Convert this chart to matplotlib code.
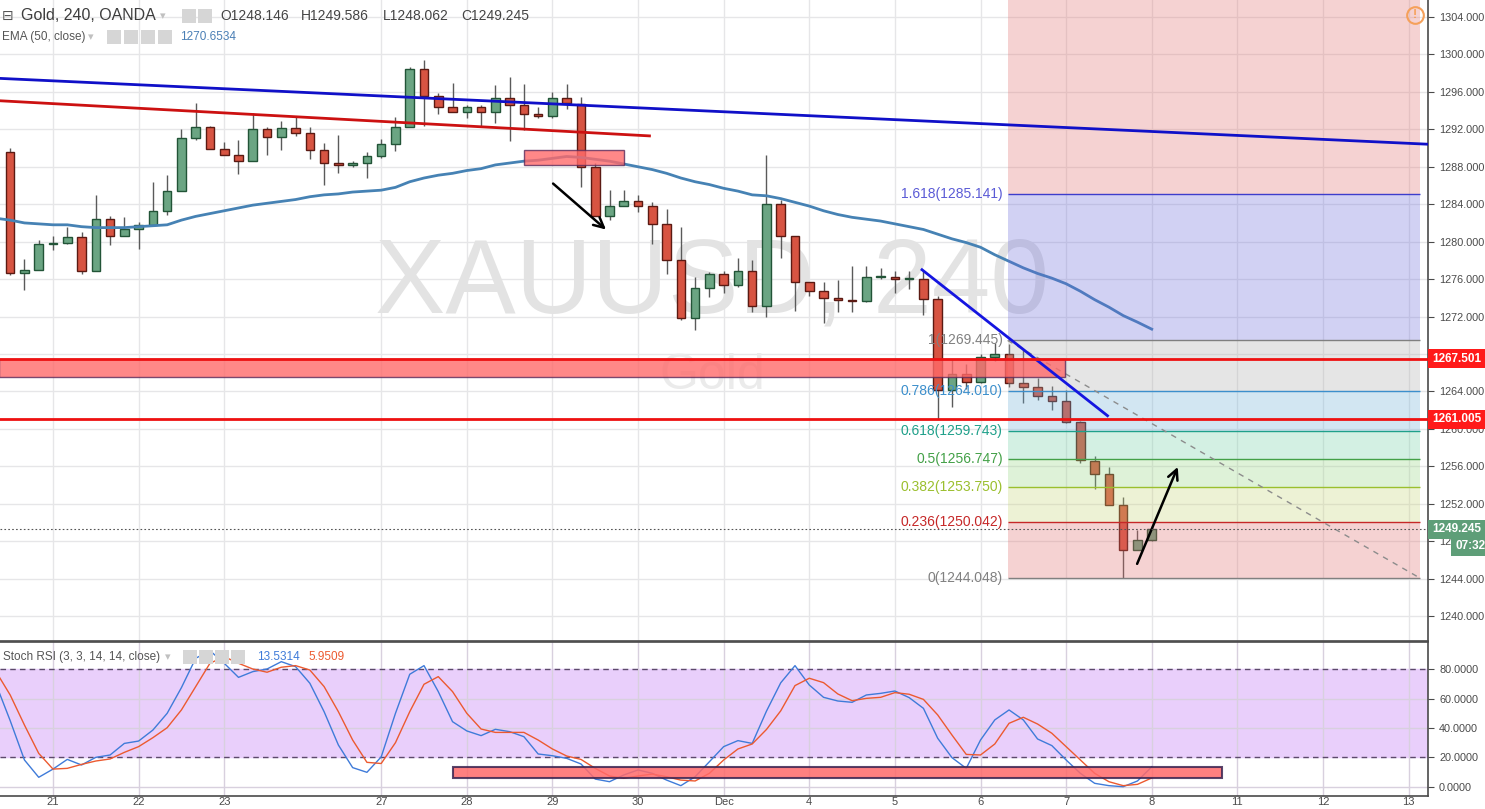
import numpy as np
import matplotlib.pyplot as plt
import matplotlib.colors as mcolors
from matplotlib.patches import Rectangle
from matplotlib.transforms import blended_transform_factory

plt.rcParams['font.family'] = ['Liberation Sans', 'DejaVu Sans']

# 4h bars, index 0 = first bar of Nov 21
bars = np.arange(-3, 78)
opens = [1289.6, 1276.6, 1277.0, 1279.7, 1279.9, 1280.5, 1276.9, 1282.4, 1280.6, 1281.4,
         1281.8, 1283.3, 1285.4, 1291.1, 1292.2, 1289.9, 1289.3, 1288.6, 1292.0, 1291.2,
         1292.1, 1291.6, 1289.8, 1288.4, 1288.2, 1288.4, 1289.2, 1290.4, 1292.2, 1298.5,
         1295.6, 1294.4, 1293.8, 1294.4, 1293.8, 1295.4, 1294.6, 1293.6, 1293.4, 1295.3,
         1294.7, 1288.0, 1282.7, 1283.8, 1284.3, 1283.8, 1281.9, 1278.0, 1271.8, 1275.1,
         1276.5, 1275.4, 1276.9, 1273.1, 1284.0, 1280.6, 1275.7, 1274.7, 1274.0, 1273.8,
         1273.7, 1276.2, 1276.2, 1276.0, 1276.0, 1273.9, 1264.1, 1265.9, 1265.0, 1267.7,
         1268.0, 1264.9, 1264.5, 1263.5, 1263.0, 1260.7, 1256.6, 1255.2, 1251.9, 1247.1,
         1248.146]
highs = [1290.0, 1278.1, 1280.2, 1280.6, 1281.6, 1281.0, 1285.0, 1282.7, 1282.6, 1282.1,
         1286.4, 1287.1, 1292.0, 1294.8, 1292.4, 1290.6, 1290.9, 1293.7, 1292.3, 1292.9,
         1293.3, 1292.2, 1290.5, 1291.4, 1288.6, 1289.6, 1291.0, 1293.3, 1298.7, 1299.4,
         1295.9, 1296.9, 1294.6, 1294.6, 1296.7, 1297.6, 1296.8, 1294.4, 1296.0, 1296.8,
         1295.5, 1288.4, 1285.5, 1285.5, 1285.0, 1284.2, 1283.5, 1281.6, 1276.2, 1276.8,
         1276.9, 1278.3, 1278.0, 1289.3, 1284.5, 1280.6, 1275.7, 1275.7, 1275.9, 1277.4,
         1277.4, 1277.2, 1276.9, 1276.9, 1276.9, 1274.2, 1267.5, 1266.9, 1268.0, 1269.2,
         1269.1, 1268.4, 1265.4, 1264.6, 1264.2, 1260.8, 1257.1, 1255.96, 1252.7, 1249.2,
         1249.586]
lows = [1276.4, 1274.8, 1277.0, 1279.1, 1279.8, 1276.5, 1276.9, 1279.6, 1280.6, 1279.2,
        1281.8, 1282.8, 1285.4, 1290.9, 1289.9, 1289.3, 1287.2, 1288.6, 1289.3, 1289.8,
        1291.3, 1288.8, 1286.0, 1287.3, 1288.0, 1286.8, 1288.9, 1289.7, 1292.2, 1292.4,
        1293.6, 1293.8, 1293.2, 1292.4, 1292.7, 1290.8, 1291.9, 1293.2, 1293.2, 1294.2,
        1285.8, 1282.7, 1282.3, 1283.8, 1283.2, 1279.8, 1276.5, 1271.6, 1270.6, 1274.1,
        1274.5, 1275.2, 1272.5, 1272.0, 1278.2, 1272.6, 1274.2, 1271.3, 1272.5, 1272.5,
        1273.6, 1276.0, 1274.5, 1274.9, 1272.2, 1261.0, 1262.3, 1264.3, 1264.9, 1267.3,
        1264.5, 1262.8, 1263.1, 1262.0, 1260.6, 1256.3, 1253.6, 1251.9, 1244.05, 1247.1,
        1248.062]
closes = [1276.6, 1277.0, 1279.7, 1279.9, 1280.5, 1276.9, 1282.4, 1280.6, 1281.4, 1281.8,
          1283.3, 1285.4, 1291.1, 1292.2, 1289.9, 1289.3, 1288.6, 1292.0, 1291.2, 1292.1,
          1291.6, 1289.8, 1288.4, 1288.2, 1288.4, 1289.2, 1290.4, 1292.2, 1298.5, 1295.6,
          1294.4, 1293.8, 1294.4, 1293.8, 1295.4, 1294.6, 1293.6, 1293.4, 1295.3, 1294.8,
          1288.0, 1282.7, 1283.8, 1284.3, 1283.8, 1281.9, 1278.0, 1271.8, 1275.1, 1276.5,
          1275.4, 1276.9, 1273.1, 1284.0, 1280.6, 1275.7, 1274.7, 1274.0, 1273.8, 1273.7,
          1276.2, 1276.25, 1276.0, 1276.0, 1273.9, 1264.1, 1265.9, 1265.0, 1267.7, 1268.0,
          1264.9, 1264.5, 1263.5, 1263.0, 1260.7, 1256.7, 1255.2, 1251.9, 1247.1, 1248.1,
          1249.245]

# indicators start one bar earlier (partly off the left edge)
ind_bars = np.arange(-4, 78)
ema50 = [1282.5, 1282.3, 1282.0, 1281.9, 1281.8, 1281.8, 1281.6, 1281.5, 1281.5, 1281.5, 1281.6,
         1281.7, 1281.8, 1282.3, 1282.7, 1283.0, 1283.3, 1283.6, 1283.9, 1284.1, 1284.3,
         1284.5, 1284.8, 1285.0, 1285.1, 1285.3, 1285.4, 1285.5, 1285.8, 1286.4, 1286.8,
         1287.1, 1287.3, 1287.6, 1287.8, 1288.2, 1288.4, 1288.6, 1288.7, 1288.9, 1289.1,
         1289.0, 1288.8, 1288.6, 1288.3, 1288.0, 1287.7, 1287.3, 1286.8, 1286.4, 1286.1,
         1285.7, 1285.4, 1285.0, 1284.9, 1284.6, 1284.2, 1283.8, 1283.3, 1282.9, 1282.6,
         1282.4, 1282.2, 1281.9, 1281.6, 1281.3, 1280.8, 1280.3, 1279.9, 1279.4, 1278.6,
         1277.9, 1277.2, 1276.6, 1276.1, 1275.5, 1274.7, 1273.8, 1273.0, 1272.1, 1271.4,
         1270.65]
stoch_k = [70.0, 45.0, 18.2, 6.4, 12.0, 18.6, 14.8, 20.0, 21.6, 29.5, 31.1,
           38.6, 50.0, 67.5, 87.5, 92.7, 84.1, 74.5, 78.4, 80.2, 85.2,
           81.8, 70.5, 51.1, 28.4, 13.0, 9.8, 20.3, 50.0, 76.6, 82.5,
           64.8, 44.3, 38.0, 34.8, 39.1, 37.5, 34.1, 22.3, 21.1, 19.3,
           15.5, 5.2, 3.4, 8.0, 11.4, 9.1, 4.5, 0.7, 6.8, 17.0,
           27.3, 31.4, 29.5, 51.5, 70.8, 82.5, 69.3, 60.9, 58.4, 57.5,
           62.5, 63.6, 65.2, 60.7, 53.4, 33.0, 19.8, 12.5, 31.8, 45.5,
           52.3, 45.5, 32.5, 28.0, 18.2, 9.1, 2.3, 0.7, 0.0, 3.9,
           13.53]
stoch_d = [78.5, 62.5, 42.0, 22.7, 12.0, 12.5, 15.2, 17.5, 18.9, 23.4, 27.3,
           33.4, 40.2, 52.3, 68.2, 84.1, 88.6, 84.1, 80.2, 78.0, 81.4,
           82.5, 79.5, 68.2, 51.1, 31.8, 16.6, 15.8, 30.0, 51.1, 69.8,
           75.0, 64.8, 50.0, 39.3, 37.0, 37.0, 37.0, 31.8, 25.7, 20.9,
           18.6, 12.5, 7.3, 5.7, 7.3, 8.6, 6.8, 4.5, 3.9, 9.1,
           18.2, 25.7, 29.1, 39.0, 51.7, 68.9, 73.9, 70.9, 63.2, 58.6,
           60.2, 60.9, 64.1, 63.0, 59.5, 48.9, 35.2, 22.0, 21.6, 29.1,
           43.2, 47.3, 42.7, 36.4, 27.3, 18.2, 9.1, 3.4, 0.7, 1.6,
           5.95]

day_ticks = [0, 6, 12, 23, 29, 35, 41, 47, 53, 59, 65, 71, 77, 83, 89, 95]
day_labels = ['21', '22', '23', '27', '28', '29', '30', 'Dec', '4', '5', '6', '7', '8', '11', '12', '13']
price_ticks = np.arange(1240, 1305, 4)
stoch_ticks = [0, 20, 40, 60, 80]

fib_ratios = ['0', '0.236', '0.382', '0.5', '0.618', '0.786', '1', '1.618']
fib_values = [1244.048, 1250.042, 1253.750, 1256.747, 1259.743, 1264.010, 1269.445, 1285.141]
fib_span = (66.9, 95.8)
support_levels = [1267.501, 1261.005]
last_price = 1249.245

zone_main = (-3.8, 70.9, 1265.55, 1267.5)
zone_top = (33.0, 40.0, 1288.2, 1289.8)
zone_stoch = (28.0, 81.9, 5.7, 13.6)
blue_trend = ([-3.8, 96.5], [1297.45, 1290.4])
red_trend = ([-3.8, 41.8], [1295.06, 1291.3])
short_trend = ([60.9, 73.9], [1277.0, 1261.4])
arrow_down = ((34.9, 1286.4), (38.9, 1281.1))
arrow_up = ((75.9, 1245.3), (78.9, 1256.2))

W, H = 1485, 809
fig = plt.figure(figsize=(W / 100, H / 100), dpi=100)
ax = fig.add_axes([0, 1 - 641 / H, 1428 / W, 641 / H])
ax2 = fig.add_axes([0, 1 - 796 / H, 1428 / W, 154 / H], sharex=ax)

text_col = '#4a4a4a'
grid_col = '#e6e6e8'


def fx(px):
    return px / W


def fy(py):
    return 1 - py / H


def under_alpha(hex_color, a):
    rgb = np.array(mcolors.to_rgb(hex_color))
    return tuple(np.clip((rgb - (1 - a)) / a, 0, 1))


# ---- main panel ----
ax.set_xlim(-3.714, 96.36)
ax.set_ylim(1237.33, 1305.82)
for t in price_ticks:
    ax.axhline(t, color=grid_col, lw=1, zorder=0.3)
for t in day_ticks:
    ax.axvline(t, color=grid_col, lw=1, zorder=0.3)

ax.text(0.4986, 0.5554, 'XAUUSD, 240', transform=ax.transAxes, ha='center', va='center',
        fontsize=76, color='#e3e3e3', zorder=0.8)
ax.text(0.4986, 0.4134, 'Gold', transform=ax.transAxes, ha='center', va='center',
        fontsize=36, color='#ebebeb', zorder=0.8)

o = np.array(opens)
c = np.array(closes)
up = c >= o
body_lo = np.minimum(o, c)
body_h = np.maximum(np.abs(c - o), 0.1)
ax.vlines(bars, lows, highs, color='#5a5a5a', lw=1, zorder=2)
ax.bar(bars[up], body_h[up], bottom=body_lo[up], width=0.6, color='#6ba583',
       edgecolor='#225437', lw=1, zorder=2.1)
ax.bar(bars[~up], body_h[~up], bottom=body_lo[~up], width=0.6, color='#d75442',
       edgecolor='#5b1a13', lw=1, zorder=2.1)

ax.plot(ind_bars, ema50, color='#4682b4', lw=2, zorder=2.5)

# fibonacci retracement
fib_lines = ['#808080', '#c62828', '#9bbf2e', '#43a047', '#1fa08a', '#3c8fcc', '#808080', '#3d3dcc']
fib_fills = ['#f6d3d3', '#eef2d6', '#dff2d9', '#d4f1e4', '#d3e7f3', '#e6e6e6', '#d2d2f4']
a = 0.3
for i in range(len(fib_values) - 1):
    ax.fill_between(fib_span, fib_values[i], fib_values[i + 1], color=under_alpha(fib_fills[i], a),
                    alpha=a, lw=0, zorder=2.7)
ax.fill_between(fib_span, fib_values[-1], 1310, color=under_alpha('#f6d3d3', a), alpha=a, lw=0, zorder=2.7)
ax.hlines(fib_values, fib_span[0], fib_span[1], colors=fib_lines, lw=1, zorder=3)
ax.plot(fib_span, [fib_values[6], fib_values[0]], color='#8c8c8c', lw=1, ls=(0, (4, 4)), zorder=3)
label_cols = ['#808080', '#c62828', '#9bbf2e', '#43a047', '#1fa08a', '#3c8fcc', '#808080', '#5b5bd6']
for r, v, col in zip(fib_ratios, fib_values, label_cols):
    ax.text(fib_span[0] - 0.35, v, f'{r}({v:.3f})', ha='right', va='center',
            fontsize=10, color=col, zorder=6)

# zones and drawings
for x0, x1, y0, y1 in [zone_main, zone_top]:
    ax.add_patch(Rectangle((x0, y0), x1 - x0, y1 - y0, facecolor='#ff6a6a', alpha=0.8,
                           edgecolor='#5a2a5a', lw=1, zorder=3.2))
for lvl in support_levels:
    ax.axhline(lvl, color='#ee1111', lw=2, zorder=4.5)
ax.plot(*blue_trend, color='#1010c8', lw=2, zorder=4)
ax.plot(*red_trend, color='#cc1111', lw=2, zorder=4)
ax.plot(*short_trend, color='#1515e0', lw=2, zorder=4)
for start, end in [arrow_down, arrow_up]:
    ax.annotate('', xy=end, xytext=start,
                arrowprops=dict(arrowstyle='->', color='black', lw=1.8, mutation_scale=18), zorder=5)
ax.axhline(last_price, color='#555555', lw=0.8, ls=(0, (1.5, 2)), zorder=5)

ax.plot(0.991, 0.977, marker='o', ms=12, mfc='none', mec='#f5a05a', mew=1.5,
        transform=ax.transAxes, clip_on=False, zorder=6)
ax.text(0.991, 0.977, '!', transform=ax.transAxes, ha='center', va='center',
        color='#f5a05a', fontsize=9, fontweight='bold', zorder=6)

ax.yaxis.tick_right()
ax.set_yticks(price_ticks)
ax.set_yticklabels([f'{t:.3f}' for t in price_ticks])
ax.set_xticks(day_ticks)
ax.tick_params(axis='x', length=0, labelbottom=False)
ax.tick_params(axis='y', length=4, color=text_col, labelcolor=text_col, labelsize=7.8, pad=4)
for s in ['top', 'left']:
    ax.spines[s].set_visible(False)
for s in ['right', 'bottom']:
    ax.spines[s].set_color(text_col)
    ax.spines[s].set_linewidth(1.2)

# ---- stoch rsi panel ----
ax2.set_ylim(-6.34, 98.6)
ax2.axhspan(20, 80, color='#e9cffb', zorder=0.1)
for t in [0, 40, 60]:
    ax2.axhline(t, color='#d8d0de', lw=1, zorder=0.3)
for t in day_ticks:
    ax2.axvline(t, color='#d8d0de', lw=1, zorder=0.3)
for t in [20, 80]:
    ax2.axhline(t, color='#5c4a6b', lw=1, ls=(0, (4, 3)), zorder=1)
ax2.plot(ind_bars, stoch_k, color='#3f7bd9', lw=1, zorder=2)
ax2.plot(ind_bars, stoch_d, color='#ec5a30', lw=1, zorder=2)
x0, x1, y0, y1 = zone_stoch
ax2.add_patch(Rectangle((x0, y0), x1 - x0, y1 - y0, facecolor='#ff6a6a', alpha=0.85,
                        edgecolor='#3b2552', lw=1.5, zorder=3))

ax2.yaxis.tick_right()
ax2.set_yticks(stoch_ticks)
ax2.set_yticklabels([f'{t:.4f}' for t in stoch_ticks])
ax2.set_xticks(day_ticks)
ax2.set_xticklabels(day_labels)
ax2.tick_params(axis='x', length=0, labelcolor=text_col, labelsize=8, pad=1)
ax2.tick_params(axis='y', length=4, color=text_col, labelcolor=text_col, labelsize=7.8, pad=4)
ax2.spines['left'].set_visible(False)
for s in ['right', 'bottom', 'top']:
    ax2.spines[s].set_color(text_col)
    ax2.spines[s].set_linewidth(1.2)

# ---- right axis badges ----
tr = blended_transform_factory(fig.transFigure, ax.transData)
badge_kw = dict(transform=tr, ha='left', va='center', color='white', fontsize=8.5, fontweight='bold')
for lvl in support_levels:
    fig.text(fx(1432), lvl, f'{lvl:.3f}',
             bbox=dict(boxstyle='square,pad=0.3', fc='#ff1a1a', ec='none'), **badge_kw)
fig.text(fx(1432), last_price, f'{last_price:.3f}',
         bbox=dict(boxstyle='square,pad=0.3', fc='#5e9e78', ec='none'), **badge_kw)
fig.text(fx(1455), 1247.45, '07:32',
         bbox=dict(boxstyle='square,pad=0.3', fc='#5e9e78', ec='none'), **badge_kw)

# ---- legend header texts ----
fig.text(fx(2), fy(16), '⊟', fontsize=10, color='#555555', va='center', family='DejaVu Sans')
fig.text(fx(21), fy(16), 'Gold, 240, OANDA', fontsize=11.5, color='#3d3d3d', va='center')
fig.text(fx(160), fy(16), '▾', fontsize=8, color='#c0c0c0', va='center', family='DejaVu Sans')
for px, txt in [(220, 'O1248.146'), (301, 'H1249.586'), (383, 'L1248.062'), (461, 'C1249.245')]:
    fig.text(fx(px), fy(16), txt, fontsize=10, color='#444444', va='center')
fig.text(fx(2), fy(37), 'EMA (50, close)', fontsize=8.5, color='#555555', va='center')
fig.text(fx(88), fy(37), '▾', fontsize=8, color='#c0c0c0', va='center', family='DejaVu Sans')
fig.text(fx(180), fy(37), '1270.6534', fontsize=8.5, color='#4a7fb5', va='center')
fig.text(fx(3), fy(657), 'Stoch RSI (3, 3, 14, 14, close)', fontsize=8.5, color='#555555', va='center')
fig.text(fx(165), fy(657), '▾', fontsize=8, color='#c0c0c0', va='center', family='DejaVu Sans')
fig.text(fx(257), fy(657), '13.5314', fontsize=8.5, color='#3f7bd9', va='center')
fig.text(fx(308), fy(657), '5.9509', fontsize=8.5, color='#ec5a30', va='center')

icon_rows = [(9, [182, 198]), (30, [107, 124, 141, 158]), (650, [183, 199, 215, 231])]
for top, xs in icon_rows:
    for px in xs:
        fig.add_artist(Rectangle((fx(px), fy(top + 14)), 14 / W, 14 / H, transform=fig.transFigure,
                                 facecolor='#d6d6d6', edgecolor='none'))

fig.savefig('out.png', dpi=100)
